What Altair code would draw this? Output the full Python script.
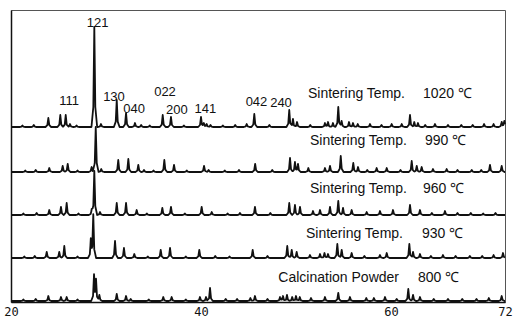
import altair as alt
import pandas as pd

# 2-theta range of the scans
X_MIN, X_MAX = 20, 72

# Stacked XRD patterns: name, vertical offset (intensity units)
names = ["1020", "990", "960", "930", "800"]
offsets = [175, 130, 87, 44, 1]

# Peak positions (2θ, deg) and heights for each pattern
pos_1020 = [21.2, 22.4, 23.93, 25.19, 25.76, 26.21, 26.9, 28.77, 29.47, 31.13,
            32.11, 33.05, 33.70, 34.6, 35.97, 36.84, 38.2, 40.00, 40.30, 40.60,
            41.00, 42.3, 43.6, 44.81, 45.61, 47.2, 49.29, 49.68, 50.11, 51.5,
            53.05, 53.37, 53.89, 54.45, 54.80, 55.58, 56.00, 56.50, 57.79, 59.0,
            60.07, 61.13, 62.00, 62.45, 62.84, 63.6, 64.63, 66.0, 67.4, 68.6,
            69.8, 70.8, 71.65, 71.93]
h_1020 = [1.5, 2, 9, 12, 12, 3, 1.5, 100, 3, 27,
          14, 4, 2, 1.5, 12, 10, 1.5, 10, 4, 3,
          2, 1.5, 2, 3, 13, 2, 17, 8, 5, 2,
          4, 5, 4, 20, 6, 5, 4, 3, 3, 2,
          3, 3, 12, 5, 4, 2, 3, 2, 2, 2,
          3, 3, 5, 6]

pos_990 = [21.5, 22.6, 24.03, 25.44, 25.97, 27.0, 28.49, 28.92, 29.50, 31.29,
           32.35, 33.40, 34.00, 35.0, 36.14, 37.16, 38.5, 40.32, 40.80, 42.5,
           44.0, 45.70, 47.5, 49.37, 49.89, 50.21, 51.30, 53.05, 53.58, 54.71,
           56.03, 56.53, 57.5, 58.49, 59.55, 61.0, 62.18, 62.71, 63.23, 64.42,
           65.86, 67.0, 68.5, 69.5, 70.42, 71.65]
h_990 = [1.5, 2, 4, 6, 8, 1.5, 5, 45, 3, 12,
         13, 7, 2, 1.5, 12, 7, 1.5, 6, 2, 1.5,
         2, 8, 2, 14, 10, 8, 4, 4, 6, 16,
         9, 5, 2, 4, 4, 2, 11, 6, 5, 3,
         3, 2, 2, 2, 7, 6]

pos_960 = [21.3, 22.7, 24.03, 25.26, 25.86, 27.1, 28.49, 28.77, 29.37, 31.13,
           32.11, 33.23, 34.3, 35.93, 36.84, 38.3, 40.07, 41.13, 42.8, 44.1,
           45.68, 47.3, 49.29, 49.89, 50.42, 51.79, 52.53, 53.58, 54.45, 54.95,
           55.86, 57.44, 58.84, 60.21, 62.00, 63.05, 64.3, 65.68, 67.0, 68.4,
           69.7, 71.0]
h_960 = [1.5, 2, 5, 8, 12, 1.5, 5, 44, 3, 12,
         12, 5, 1.5, 7, 8, 1.5, 8, 3, 1.5, 2,
         8, 2, 12, 10, 8, 4, 5, 8, 14, 7,
         5, 3, 4, 5, 10, 5, 2, 4, 2, 2,
         1.5, 2]

pos_930 = [21.4, 22.5, 23.76, 25.08, 25.61, 27.0, 28.40, 28.66, 30.95, 31.89,
           32.98, 34.4, 35.76, 36.74, 38.4, 39.82, 41.5, 43.0, 45.44, 47.0,
           49.08, 49.55, 50.07, 51.47, 52.53, 53.00, 53.37, 54.35, 54.81, 55.86,
           57.2, 58.84, 59.55, 61.93, 62.32, 63.05, 64.2, 65.47, 66.8, 68.3,
           69.6, 70.8, 71.79]
h_930 = [1.5, 2, 6, 6, 12, 1.5, 18, 43, 17, 10,
         4, 1.5, 8, 10, 1.5, 8, 2, 1.5, 8, 2,
         12, 8, 6, 3, 4, 5, 4, 14, 8, 5,
         2, 3, 5, 14, 6, 4, 2, 3, 2, 2,
         2, 3, 5]

pos_800 = [21.3, 22.6, 23.93, 25.26, 25.86, 27.0, 28.74, 28.95, 29.30, 31.13,
           32.11, 32.60, 34.5, 36.03, 36.91, 38.4, 39.89, 40.53, 40.95, 42.6,
           43.8, 45.20, 45.68, 47.0, 48.32, 48.63, 49.05, 49.60, 50.00, 50.40,
           51.58, 53.05, 54.45, 55.68, 57.40, 58.20, 59.37, 60.6, 61.82, 62.32,
           63.05, 64.5, 66.0, 67.5, 69.0, 70.3, 71.65]
h_800 = [1.5, 2, 5, 4, 4, 1.5, 25, 20, 6, 7,
         5, 2, 1.5, 4, 4, 1.5, 4, 4, 13, 2,
         2, 3, 5, 2, 4, 5, 6, 4, 5, 4,
         3, 4, 8, 4, 3, 3, 4, 2, 12, 6,
         4, 2, 2, 2, 2, 3, 5]

peak_sets = [(pos_1020, h_1020), (pos_990, h_990), (pos_960, h_960),
             (pos_930, h_930), (pos_800, h_800)]

# Reflection indices marked on the top pattern
hkl_text = ["121", "111", "130", "040", "022", "200", "141", "042", "240"]
hkl_x = [29.11, 26.11, 30.84, 32.95, 36.21, 37.47, 40.47, 45.84, 48.42]
hkl_y = [279, 201, 205, 193, 210, 192.5, 193.5, 200, 199]

# Pattern captions: description (right end at cap_x), temperature (starts at cap_temp_x)
cap_text = ["Sintering Temp.", "Sintering Temp.", "Sintering Temp.",
            "Sintering Temp.", "Calcination Powder"]
cap_temp = ["1020 \u2103", "990 \u2103", "960 \u2103", "930 \u2103", "800 \u2103"]
cap_x = [61.47, 61.68, 61.68, 61.26, 60.84]
cap_temp_x = [63.37, 63.58, 63.37, 63.26, 62.84]
cap_y = [204, 157, 109, 64, 20]

# Peak outline: narrow profile with concave flanks
HALF = 0.3
FOOT = 0.35


def peak_value(x, p, h):
    d = abs(x - p)
    if d >= HALF:
        return 0.0
    if d <= FOOT * HALF:
        return h - 0.8 * h * d / (FOOT * HALF)
    return 0.2 * h * (HALF - d) / ((1 - FOOT) * HALF)


rows = []
for name, off, (pos, hts) in zip(names, offsets, peak_sets):
    xs = {X_MIN, X_MAX}
    for p in pos:
        xs.update([p - HALF, p - FOOT * HALF, p, p + FOOT * HALF, p + HALF])
    for x in sorted(v for v in xs if X_MIN <= v <= X_MAX):
        y = off + sum(peak_value(x, p, h) for p, h in zip(pos, hts))
        rows.append({"series": name, "two_theta": x, "intensity": y})

df = pd.DataFrame(rows)
hkl_df = pd.DataFrame({"t": hkl_text, "x": hkl_x, "y": hkl_y})
cap_df = pd.DataFrame({"t": cap_text, "temp": cap_temp, "x": cap_x,
                       "xt": cap_temp_x, "y": cap_y})

xscale = alt.Scale(domain=[X_MIN, X_MAX], nice=False, zero=False)
yscale = alt.Scale(domain=[0, 292], nice=False, zero=False)

lines = alt.Chart(df).mark_line(color="#111111", strokeWidth=1.8,
                                strokeJoin="round").encode(
    x=alt.X("two_theta:Q", scale=xscale,
            axis=alt.Axis(values=[20, 40, 60, 72], title=None, grid=False,
                          ticks=False, labelFlush=False, labelPadding=4,
                          labelFont="DejaVu Sans Mono", labelFontSize=12,
                          labelColor="#111111", domainColor="#111111",
                          domainWidth=1.5)),
    y=alt.Y("intensity:Q", scale=yscale,
            axis=alt.Axis(title=None, labels=False, ticks=False, grid=False,
                          domainColor="#111111", domainWidth=1.5)),
    detail="series:N",
)

hkl = alt.Chart(hkl_df).mark_text(font="Liberation Sans", fontSize=13,
                                  color="#111111", align="center",
                                  baseline="middle").encode(
    x=alt.X("x:Q", scale=xscale), y=alt.Y("y:Q", scale=yscale), text="t:N")

caps = alt.Chart(cap_df).mark_text(font="Liberation Sans", fontSize=14,
                                   color="#111111", align="right",
                                   baseline="alphabetic").encode(
    x=alt.X("x:Q", scale=xscale), y=alt.Y("y:Q", scale=yscale), text="t:N")

temps = alt.Chart(cap_df).mark_text(font="Liberation Sans", fontSize=14,
                                    color="#111111", align="left",
                                    baseline="alphabetic").encode(
    x=alt.X("xt:Q", scale=xscale), y=alt.Y("y:Q", scale=yscale), text="temp:N")

chart = alt.layer(lines, hkl, caps, temps).properties(
    width=494, height=292,
    autosize=alt.AutoSizeParams(type="none"),
    padding={"left": 11, "top": 10, "right": 10, "bottom": 18},
    background="white",
).configure_view(stroke="#555555", strokeWidth=1)

chart.save("out.html", embed_options={"renderer": "svg", "actions": False})
